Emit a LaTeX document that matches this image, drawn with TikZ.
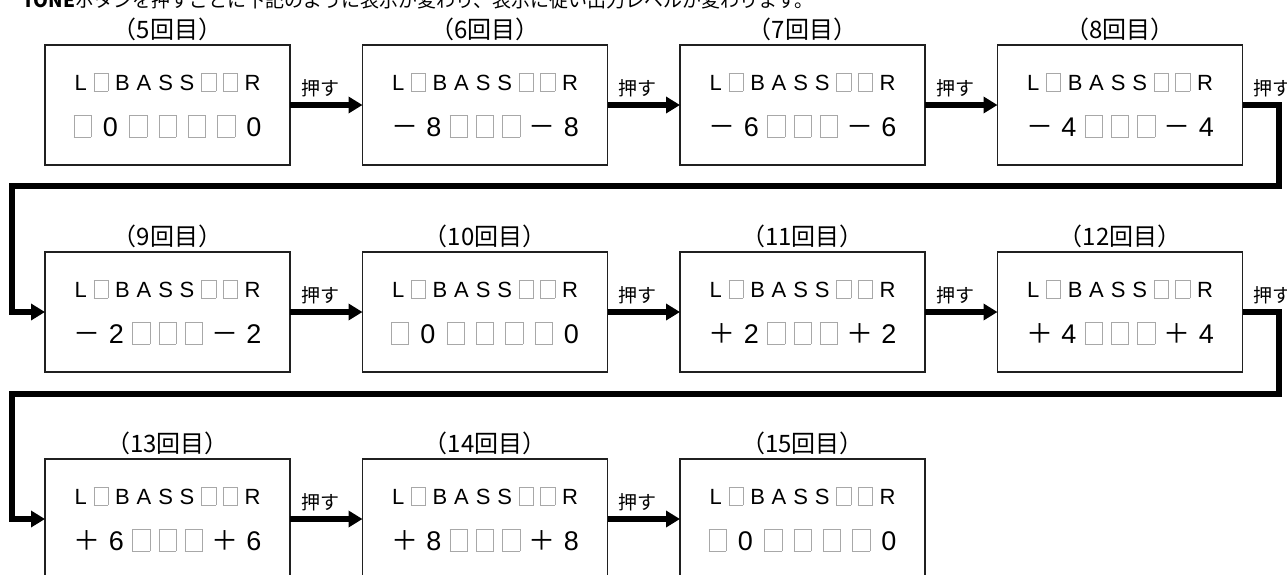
\documentclass[tikz,border=0pt]{standalone}
\usepackage{fontspec}
\setmainfont{Liberation Sans}
\newfontfamily\jp{Noto Sans CJK JP}
\usetikzlibrary{positioning,arrows.meta}
\definecolor{blankgray}{HTML}{A8A8A8}
\definecolor{boxline}{HTML}{202020}

% blank digit of the display
\newcommand\blk{{\color{blankgray}\fboxsep=0pt\fboxrule=0.6pt\fbox{\rule{0pt}{0.8em}\hspace{0.62em}}}}
\newcommand\mn{{\jp －}}
\newcommand\pl{{\jp ＋}}
\newcommand\spread[2]{\makebox[#1][s]{#2}}
\newcommand\topline{{\fontsize{22pt}{26pt}\selectfont\spread{186pt}{L\hfill\blk\hfill B\hfill A\hfill S\hfill S\hfill\blk\hfill\blk\hfill R}}}
\newcommand\zero{{\fontsize{27pt}{30pt}\selectfont\spread{188pt}{\blk\hfill 0\hfill\blk\hfill\blk\hfill\blk\hfill\blk\hfill 0}}}
\newcommand\lvl[2]{{\fontsize{27pt}{30pt}\selectfont\spread{188pt}{#1\hfill #2\hfill\blk\hfill\blk\hfill\blk\hfill #1\hfill #2}}}

\begin{document}
\begin{tikzpicture}[
        x=1pt, y=-1pt,
        node distance=72.5pt,
        disp/.style={draw=boxline, line width=1.2pt, fill=white, minimum width=245pt,
          minimum height=120pt, inner sep=0pt, outer sep=0pt, align=center,
          font=\fontsize{22pt}{46pt}\selectfont},
        nth/.style={font=\jp\fontsize{24pt}{26pt}\selectfont, inner sep=2pt, label distance=2pt},
        push/.style={line width=5.5pt, -{Triangle[length=14pt,width=16pt]}},
        pushlbl/.style={font=\jp\fontsize{19pt}{22pt}\selectfont, inner sep=1pt, above=4pt}
    ]
      \useasboundingbox (0,0) rectangle (1287,574);
      \clip (0,0) rectangle (1287,574);

      \node[anchor=base west, inner sep=0pt, font=\jp\fontsize{19pt}{20pt}\selectfont] (intro) at (22,7)
        {\textbf{TONE}ボタンを押すごとに下記のように表示が変わり、表示に従い出力レベルが変わります。};

      % row 1
      \node[disp, label={[nth]above:（5回目）}] (b1) at (167.5,105) {\topline\\\zero};
      \node[disp, right=of b1, label={[nth]above:（6回目）}] (b2) {\topline\\\lvl{\mn}{8}};
      \node[disp, right=of b2, label={[nth]above:（7回目）}] (b3) {\topline\\\lvl{\mn}{6}};
      \node[disp, right=of b3, label={[nth]above:（8回目）}] (b4) {\topline\\\lvl{\mn}{4}};

      % row 2
      \node[disp, below=87pt of b1, label={[nth]above:（9回目）}] (b5) {\topline\\\lvl{\mn}{2}};
      \node[disp, right=of b5, label={[nth]above:（10回目）}] (b6) {\topline\\\zero};
      \node[disp, right=of b6, label={[nth]above:（11回目）}] (b7) {\topline\\\lvl{\pl}{2}};
      \node[disp, right=of b7, label={[nth]above:（12回目）}] (b8) {\topline\\\lvl{\pl}{4}};

      % row 3
      \node[disp, below=87pt of b5, label={[nth]above:（13回目）}] (b9) {\topline\\\lvl{\pl}{6}};
      \node[disp, right=of b9, label={[nth]above:（14回目）}] (b10) {\topline\\\lvl{\pl}{8}};
      \node[disp, right=of b10, label={[nth]above:（15回目）}] (b11) {\topline\\\zero};

      \coordinate (c1) at (1279,186);
      \coordinate (c2) at (12,186);
      \coordinate (c3) at (1279,394);
      \coordinate (c4) at (12,394);

      \draw[push] (b1) -- node[pushlbl, pos=0.42] {押す} (b2);
      \draw[push] (b2) -- node[pushlbl, pos=0.42] {押す} (b3);
      \draw[push] (b3) -- node[pushlbl, pos=0.42] {押す} (b4);
      \draw[push] (b4.east) -- node[pushlbl, pos=0.83] {押す} (b4.east -| c1) -- (c1) -- (c2) |- (b5.west);

      \draw[push] (b5) -- node[pushlbl, pos=0.42] {押す} (b6);
      \draw[push] (b6) -- node[pushlbl, pos=0.42] {押す} (b7);
      \draw[push] (b7) -- node[pushlbl, pos=0.42] {押す} (b8);
      \draw[push] (b8.east) -- node[pushlbl, pos=0.83] {押す} (b8.east -| c3) -- (c3) -- (c4) |- (b9.west);

      \draw[push] (b9) -- node[pushlbl, pos=0.42] {押す} (b10);
      \draw[push] (b10) -- node[pushlbl, pos=0.42] {押す} (b11);
    \end{tikzpicture}
\end{document}
